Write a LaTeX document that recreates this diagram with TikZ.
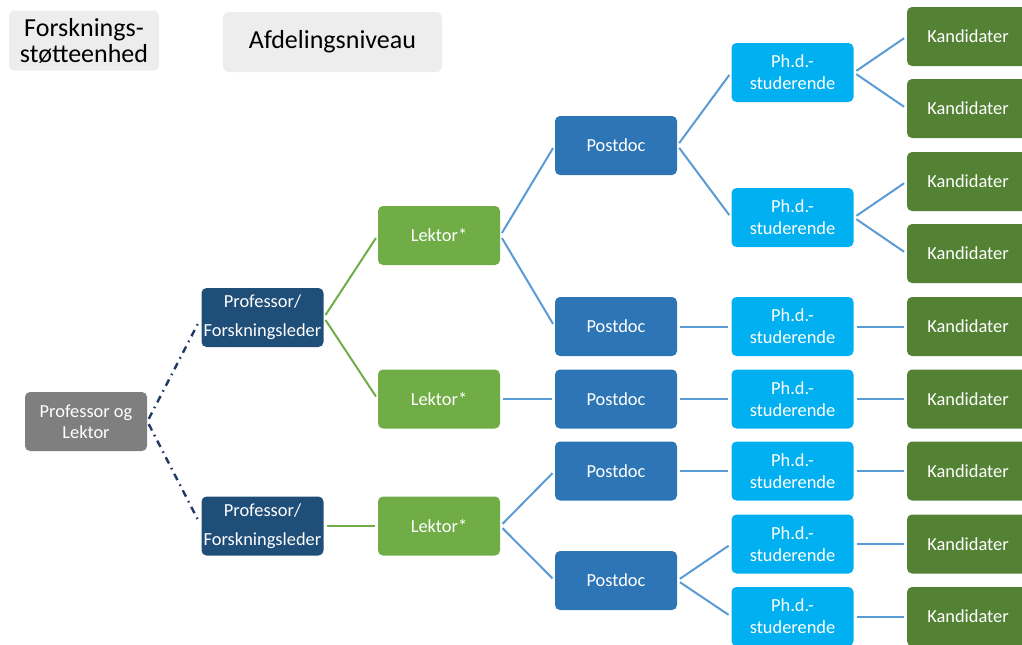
\documentclass[tikz,border=0pt]{standalone}
\usepackage{fontspec}
\setmainfont{Carlito}
\usepackage{xcolor}
\definecolor{graaboks}{HTML}{7F7F7F}
\definecolor{lysgraa}{HTML}{EDEDED}
\definecolor{marine}{HTML}{1F4E79}
\definecolor{lysgroen}{HTML}{70AD47}
\definecolor{blaa}{HTML}{2E75B6}
\definecolor{cyanblaa}{HTML}{00B0F0}
\definecolor{moerkgroen}{HTML}{548235}
\definecolor{linjeblaa}{HTML}{5B9BD5}
\definecolor{prikblaa}{HTML}{1F3864}

\tikzset{
  boks/.style={rounded corners=2.5pt, minimum width=61pt, minimum height=29.5pt,
    inner sep=1pt, align=center, text=white, font=\fontsize{9.2}{11}\selectfont},
  hoved/.style={rounded corners=3pt, fill=lysgraa, align=center, inner sep=1pt,
    font=\fontsize{13}{13}\selectfont},
  forbind/.style={line width=1pt, shorten <=1.5pt, shorten >=1.5pt},
  stiplet/.style={forbind, line width=1.2pt, prikblaa, dash pattern=on 3.5pt off 2.5pt on 0.8pt off 2.5pt}
}

\begin{document}
\begin{tikzpicture}[x=0.5pt, y=-0.5pt]
\useasboundingbox (0,0) rectangle (1022,644);
% overskrifter
\node[hoved, minimum width=75pt, minimum height=30pt] (fse) at (84,40.5) {Forsknings-\\støtteenhed};
\node[hoved, minimum width=109.5pt, minimum height=30pt] (afd) at (332.5,42) {Afdelingsniveau};
% venstre side
\node[boks, fill=graaboks, font=\fontsize{9.2}{10.5}\selectfont] (pol) at (86,421.5) {Professor og\\Lektor};
\node[boks, fill=marine, font=\fontsize{9.2}{14.5}\selectfont] (prof1) at (262.5,317.5) {Professor/\\Forskningsleder};
\node[boks, fill=marine, font=\fontsize{9.2}{14.5}\selectfont] (prof2) at (262.5,526) {Professor/\\Forskningsleder};
% lektorer
\node[boks, fill=lysgroen] (lek1) at (439,235.5) {Lektor*};
\node[boks, fill=lysgroen] (lek2) at (439,399) {Lektor*};
\node[boks, fill=lysgroen] (lek3) at (439,526) {Lektor*};
% postdocs
\node[boks, fill=blaa] (pd1) at (616,145.5) {Postdoc};
\node[boks, fill=blaa] (pd2) at (616,326.5) {Postdoc};
\node[boks, fill=blaa] (pd3) at (616,399) {Postdoc};
\node[boks, fill=blaa] (pd4) at (616,471) {Postdoc};
\node[boks, fill=blaa] (pd5) at (616,580.5) {Postdoc};
% ph.d.-studerende
\foreach \n/\y in {1/72.5, 2/217.5, 3/326.5, 4/399, 5/471, 6/544, 7/616.5}
  \node[boks, fill=cyanblaa] (phd\n) at (792.5,\y) {Ph.d.-\\studerende};
% kandidater
\foreach \n/\y in {1/36.5, 2/108.5, 3/181.5, 4/253.5, 5/326.5, 6/399, 7/471, 8/544, 9/616.5}
  \node[boks, fill=moerkgroen] (kan\n) at (968,\y) {Kandidater};

% forbindelser
\draw[stiplet] (pol.east) -- (prof1.west);
\draw[stiplet] (pol.east) -- (prof2.west);
\foreach \a/\b in {prof1/lek1, prof1/lek2, prof2/lek3}
  \draw[forbind, lysgroen] (\a.east) -- (\b.west);
\foreach \a/\b in {lek1/pd1, lek1/pd2, lek2/pd3, lek3/pd4, lek3/pd5,
                   pd1/phd1, pd1/phd2, pd2/phd3, pd3/phd4, pd4/phd5, pd5/phd6, pd5/phd7,
                   phd1/kan1, phd1/kan2, phd2/kan3, phd2/kan4, phd3/kan5, phd4/kan6,
                   phd5/kan7, phd6/kan8, phd7/kan9}
  \draw[forbind, linjeblaa] (\a.east) -- (\b.west);
\end{tikzpicture}
\end{document}
